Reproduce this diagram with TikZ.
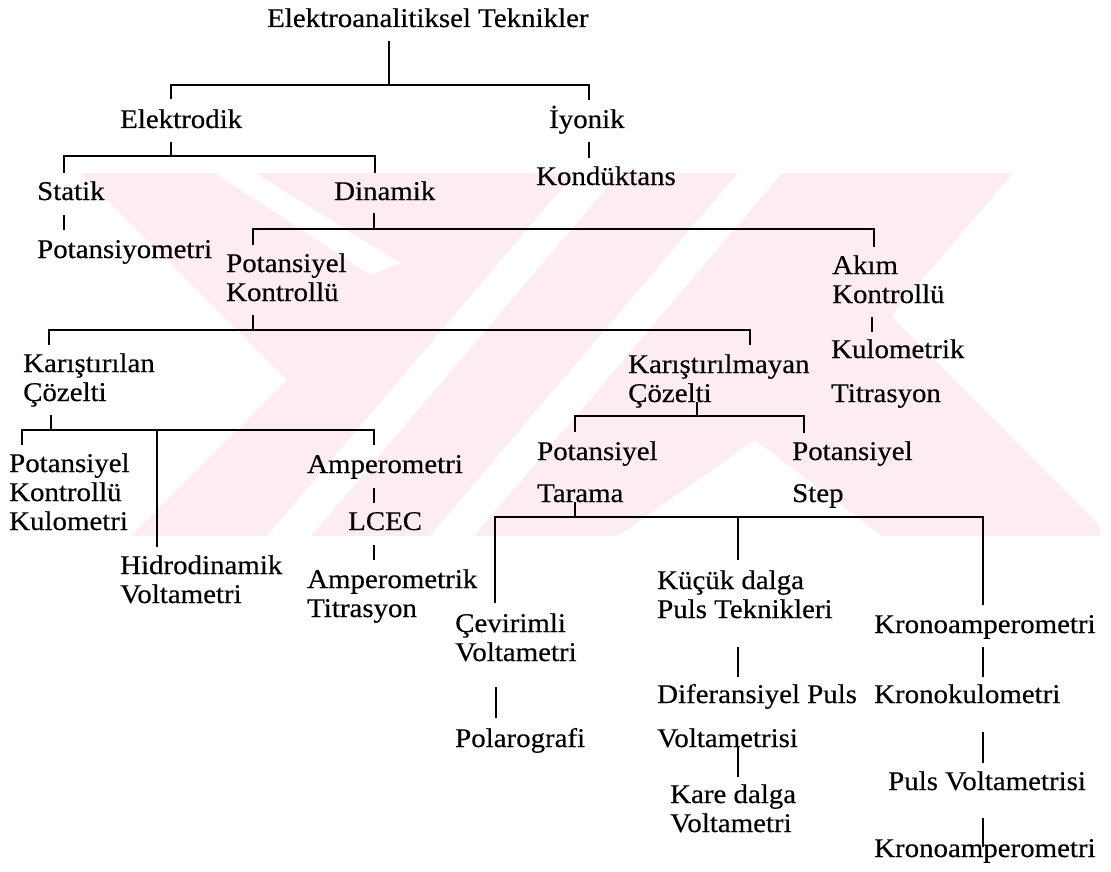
\documentclass[tikz,border=0pt]{standalone}
\usepackage{fontspec}
\setmainfont[FakeStretch=1.07,FakeBold=0.4]{Liberation Serif}
\usepackage{tikz}
\usetikzlibrary{positioning}
\definecolor{wmark}{RGB}{253,237,240}
\tikzset{
  lbl/.style={anchor=base west,inner sep=0pt,align=left,font=\fontsize{27}{29}\selectfont},
  tree/.style={line width=2pt,black}
}

\begin{document}
\begin{tikzpicture}[x=1pt,y=-1pt]
\useasboundingbox (0,0) rectangle (1111,872);
% watermark
\begin{scope}
\clip (60,173) rectangle (1100,536);
\fill[wmark] (80,173) -- (1013,173) -- (891,316) -- (1110,536) -- (131,536) -- (287,380) -- cycle;
\fill[white] (575,173) -- (619,173) -- (311,536) -- (267,536) -- cycle;
\fill[white] (738,173) -- (782,173) -- (474,536) -- (430,536) -- cycle;
\fill[white] (755,440) -- (882,536) -- (618,536) -- cycle;
\fill[white] (215,173) -- (255,173) -- (400,263) -- (370,275) -- cycle;
\end{scope}
% labels (anchor = baseline of the last line)
\node[lbl] (T) at (267,27) {Elektroanalitiksel Teknikler};
\node[lbl] (El) at (120,128) {Elektrodik};
\node[lbl] (Iy) at (549,128) {İyonik};
\node[lbl] (Ko) at (536,185) {Kondüktans};
\node[lbl] (St) at (37,200) {Statik};
\node[lbl] (Di) at (334,200) {Dinamik};
\node[lbl] (Pm) at (37,258) {Potansiyometri};
\node[lbl] (PK) at (226,301) {Potansiyel\\Kontrollü};
\node[lbl] (AK) at (832,303) {Akım\\Kontrollü};
\node[lbl] (Ku) at (831,402) {Kulometrik\\[15pt]Titrasyon};
\node[lbl] (KC) at (23,401) {Karıştırılan\\Çözelti};
\node[lbl] (KM) at (628,402) {Karıştırılmayan\\Çözelti};
\node[lbl] (PKK) at (9,530) {Potansiyel\\Kontrollü\\Kulometri};
\node[lbl] (Am) at (307,473) {Amperometri};
\node[lbl] (LC) at (348,530) {LCEC};
\node[lbl] (AT) at (307,617) {Amperometrik\\Titrasyon};
\node[lbl] (HV) at (120,603) {Hidrodinamik\\Voltametri};
\node[lbl] (PT) at (537,502) {Potansiyel\\[13pt]Tarama};
\node[lbl] (PS) at (792,502) {Potansiyel\\[13pt]Step};
\node[lbl] (CV) at (455,661) {Çevirimli\\Voltametri};
\node[lbl] (Po) at (455,747) {Polarografi};
\node[lbl] (KD) at (657,618) {Küçük dalga\\Puls Teknikleri};
\node[lbl] (DP) at (657,747) {Diferansiyel Puls\\[15pt]Voltametrisi};
\node[lbl] (KV) at (670,832) {Kare dalga\\Voltametri};
\node[lbl] (KA1) at (874,633) {Kronoamperometri};
\node[lbl] (KK) at (874,703) {Kronokulometri};
\node[lbl] (PV) at (888,790) {Puls Voltametrisi};
\node[lbl] (KA2) at (874,857) {Kronoamperometri};
% connectors
\draw[tree] ([xshift=122pt,yshift=-14pt]T.base west) -- ++(0,44) coordinate (bT)
  -| ([xshift=51pt,yshift=29pt]El.base west);
\draw[tree] (bT) -| ([xshift=40pt,yshift=28pt]Iy.base west);
\draw[tree] ([xshift=51pt,yshift=-14pt]El.base west) -- ++(0,14) coordinate (bEl)
  -| ([xshift=27pt,yshift=27pt]St.base west);
\draw[tree] (bEl) -| ([xshift=41pt,yshift=27pt]Di.base west);
\draw[tree] ([xshift=40pt,yshift=-14pt]Iy.base west) -- ([xshift=53pt,yshift=27pt]Ko.base west);
\draw[tree] ([xshift=26.5pt,yshift=-15pt]St.base west) -- ([xshift=26.5pt,yshift=28pt]Pm.base west);
\draw[tree] ([xshift=40pt,yshift=-13pt]Di.base west) -- ++(0,16) coordinate (bDi)
  -| ([xshift=27pt,yshift=56pt]PK.base west);
\draw[tree] (bDi) -| ([xshift=41.5pt,yshift=56pt]AK.base west);
\draw[tree] ([xshift=27pt,yshift=-14pt]PK.base west) -- ++(0,15) coordinate (bPK)
  -| ([xshift=26pt,yshift=56pt]KC.base west);
\draw[tree] (bPK) -| ([xshift=122pt,yshift=57pt]KM.base west);
\draw[tree] ([xshift=39.5pt,yshift=-14pt]AK.base west) -- ([xshift=40.5pt,yshift=70pt]Ku.base west);
\draw[tree] ([xshift=27.7pt,yshift=-14pt]KC.base west) -- ++(0,15) coordinate (bKC)
  -| ([xshift=13pt,yshift=85pt]PKK.base west);
\draw[tree] (bKC) -| ([xshift=67pt,yshift=28pt]Am.base west);
\draw[tree] (bKC) -| ([xshift=37pt,yshift=56pt]HV.base west);
\draw[tree] ([xshift=67pt,yshift=-15pt]Am.base west) -- ([xshift=26pt,yshift=27pt]LC.base west);
\draw[tree] ([xshift=26pt,yshift=-15pt]LC.base west) -- ([xshift=67pt,yshift=57pt]AT.base west);
\draw[tree] ([xshift=69pt]KM.base west) -- ++(0,14) coordinate (bKM)
  -| ([xshift=37.6pt,yshift=70pt]PT.base west);
\draw[tree] (bKM) -| ([xshift=12pt,yshift=69pt]PS.base west);
\draw[tree] ([xshift=37.6pt]PT.base west) -- ++(0,15) coordinate (bPT)
  -| ([xshift=40pt,yshift=58pt]CV.base west);
\draw[tree] (bPT) -| ([xshift=80.5pt,yshift=58pt]KD.base west);
\draw[tree] (bPT) -| ([xshift=109pt,yshift=28pt]KA1.base west);
\draw[tree] ([xshift=41pt,yshift=-26pt]CV.base west) -- ([xshift=41pt,yshift=29pt]Po.base west);
\draw[tree] ([xshift=80.5pt,yshift=-29pt]KD.base west) -- ([xshift=80.5pt,yshift=70pt]DP.base west);
\draw[tree] ([xshift=80.5pt]DP.base west) -- ([xshift=67.5pt,yshift=55pt]KV.base west);
\draw[tree] ([xshift=109pt,yshift=-14pt]KA1.base west) -- ([xshift=109pt,yshift=26pt]KK.base west);
\draw[tree] ([xshift=109pt,yshift=-29pt]KK.base west) -- ([xshift=95pt,yshift=27pt]PV.base west);
\draw[tree] ([xshift=95pt,yshift=-28pt]PV.base west) -- ([xshift=109pt,yshift=10pt]KA2.base west);
\end{tikzpicture}
\end{document}
